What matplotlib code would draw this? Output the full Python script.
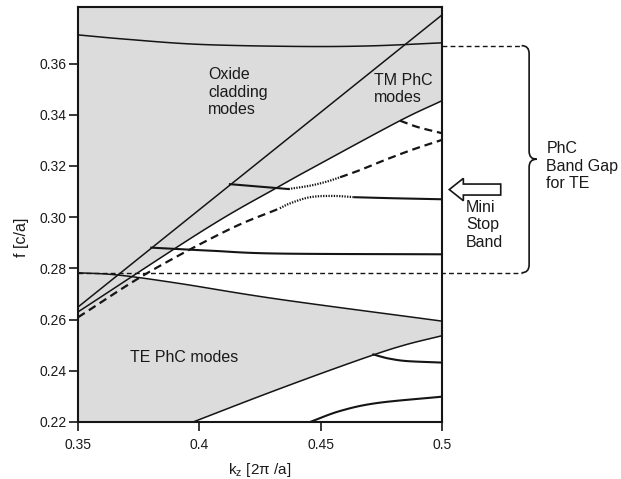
import numpy as np
import matplotlib
matplotlib.use("Agg")
import matplotlib.pyplot as plt
from matplotlib.path import Path
from matplotlib.patches import PathPatch, FancyArrow

plt.rcParams['font.family'] = ['Liberation Sans', 'DejaVu Sans']

# ---- band data (kz in 2*pi/a, f in c/a) ----
kz_light = [0.35, 0.5]
f_light = [0.2649, 0.3790]

kz_clad = [0.35, 0.37, 0.40, 0.44, 0.47, 0.5]
f_clad = [0.3712, 0.3695, 0.3675, 0.3667, 0.3669, 0.3681]

kz_tm = [0.35, 0.4027, 0.4319, 0.45, 0.4827, 0.5]
f_tm = [0.263, 0.2955, 0.3115, 0.321, 0.3377, 0.3455]

kz_tm_branch = [0.4827, 0.49, 0.5]
f_tm_branch = [0.3377, 0.3352, 0.3328]

kz_te_top = [0.35, 0.3665, 0.3912, 0.4324, 0.5]
f_te_top = [0.2783, 0.2774, 0.2742, 0.2680, 0.2594]

kz_te_bot = [0.3974, 0.425, 0.4497, 0.4717, 0.4855, 0.5]
f_te_bot = [0.22, 0.2301, 0.2388, 0.2462, 0.2503, 0.2537]

kz_te_branch = [0.4717, 0.475, 0.4786, 0.4855, 0.5]
f_te_branch = [0.2464, 0.2455, 0.2447, 0.2438, 0.2432]

kz_lowest = [0.4456, 0.458, 0.4732, 0.5]
f_lowest = [0.22, 0.2243, 0.2274, 0.2299]

kz_mode1 = [0.3802, 0.4049, 0.4324, 0.5]
f_mode1 = [0.2881, 0.2869, 0.2858, 0.2855]

# upper mode across the mini stop band
kz_up_solid = [0.4126, 0.4367]
f_up_solid = [0.3129, 0.3110]
kz_up_dot = [0.4367, 0.4456, 0.4525, 0.458]
f_up_dot = [0.3110, 0.3123, 0.3139, 0.3156]
kz_up_dash = [0.458, 0.4662, 0.4772, 0.4882, 0.5]
f_up_dash = [0.3156, 0.3184, 0.3226, 0.3265, 0.3302]

# lower mode across the mini stop band
kz_lo_dash = [0.35, 0.3788, 0.4118, 0.4332]
f_lo_dash = [0.2609, 0.2783, 0.2950, 0.3035]
kz_lo_dot = [0.4332, 0.4374, 0.4456, 0.4552, 0.4641]
f_lo_dot = [0.3035, 0.3054, 0.3078, 0.3083, 0.3078]
kz_lo_solid = [0.4641, 0.48, 0.5]
f_lo_solid = [0.3078, 0.3074, 0.3070]

gap_top = 0.367
gap_bottom = 0.2783
stop_band_f = 0.3108

xticks = [0.35, 0.4, 0.45, 0.5]
xticklabels = ['0.35', '0.4', '0.45', '0.5']
yticks = [0.22, 0.24, 0.26, 0.28, 0.30, 0.32, 0.34, 0.36]


def smooth(x, y, n=16):
    """Catmull-Rom curve through the given points."""
    p = np.column_stack([x, y]).astype(float)
    if len(p) < 3:
        return p[:, 0], p[:, 1]
    ext = np.vstack([2 * p[0] - p[1], p, 2 * p[-1] - p[-2]])
    out = []
    t = np.linspace(0, 1, n, endpoint=False)[:, None]
    for i in range(1, len(ext) - 2):
        p0, p1, p2, p3 = ext[i - 1], ext[i], ext[i + 1], ext[i + 2]
        seg = 0.5 * ((2 * p1) + (-p0 + p2) * t
                     + (2 * p0 - 5 * p1 + 4 * p2 - p3) * t ** 2
                     + (-p0 + 3 * p1 - 3 * p2 + p3) * t ** 3)
        out.append(seg)
    out.append(p[-1][None, :])
    out = np.vstack(out)
    return out[:, 0], out[:, 1]


W, H = 621, 479
fig = plt.figure(figsize=(W / 100, H / 100), dpi=100)
ax = fig.add_axes([78 / W, 1 - 422 / H, 364 / W, 415 / H])
ax.set_xlim(0.35, 0.5)
ax.set_ylim(0.22, 0.3821)

gray = '#dcdcdc'
ink = '#151515'

# shaded mode regions
xs = np.linspace(0.35, 0.5, 600)
tm = np.interp(xs, *smooth(kz_tm, f_tm))
te_top = np.interp(xs, *smooth(kz_te_top, f_te_top))
te_bot = np.where(xs < kz_te_bot[0], 0.22,
                  np.interp(xs, *smooth(kz_te_bot, f_te_bot)))
ax.fill_between(xs, tm, 0.3821, color=gray, lw=0, zorder=0)
ax.fill_between(xs, te_bot, te_top, color=gray, lw=0, zorder=0)


def curve(x, y, **kw):
    ax.plot(*smooth(x, y), **kw)


lw = 1.1
curve(kz_light, f_light, color=ink, lw=lw)
curve(kz_clad, f_clad, color=ink, lw=lw)
curve(kz_tm, f_tm, color=ink, lw=lw)
curve(kz_te_top, f_te_top, color=ink, lw=lw)
curve(kz_te_bot, f_te_bot, color=ink, lw=lw)
curve(kz_te_branch, f_te_branch, color=ink, lw=1.5)
curve(kz_lowest, f_lowest, color=ink, lw=1.5)
curve(kz_mode1, f_mode1, color=ink, lw=1.5)
curve(kz_up_solid, f_up_solid, color=ink, lw=1.5)
curve(kz_lo_solid, f_lo_solid, color=ink, lw=1.5)

dash = dict(color=ink, lw=1.6, dashes=(3.6, 2.2))
curve(kz_lo_dash, f_lo_dash, **dash)
curve(kz_up_dash, f_up_dash, **dash)
curve(kz_tm_branch, f_tm_branch, **dash)

dot = dict(color=ink, lw=1.6, dashes=(0.6, 0.6))
curve(kz_up_dot, f_up_dot, **dot)
curve(kz_lo_dot, f_lo_dot, **dot)

# band-gap limits extended to the brace
x_brace_end = 0.5328
gap = dict(color=ink, lw=1.0, dashes=(3.5, 2.3), clip_on=False)
ax.plot([0.35, x_brace_end], [gap_bottom, gap_bottom], **gap)
ax.plot([0.5, x_brace_end], [gap_top, gap_top], **gap)

# curly brace
xv, xt = 0.5359, 0.5390
r = 0.0031
ym = 0.5 * (gap_top + gap_bottom)
verts = [(x_brace_end, gap_top), (xv, gap_top), (xv, gap_top - r),
         (xv, ym + r), (xv, ym), (xt, ym),
         (xv, ym), (xv, ym - r),
         (xv, gap_bottom + r), (xv, gap_bottom), (x_brace_end, gap_bottom)]
codes = [Path.MOVETO, Path.CURVE3, Path.CURVE3,
         Path.LINETO, Path.CURVE3, Path.CURVE3,
         Path.CURVE3, Path.CURVE3,
         Path.LINETO, Path.CURVE3, Path.CURVE3]
ax.add_patch(PathPatch(Path(verts, codes), fill=False, ec=ink, lw=1.2,
                       clip_on=False))

# hollow arrow for the mini stop band
arrow = FancyArrow(0.5242, stop_band_f, -0.0212, 0, width=0.0043,
                   head_width=0.00875, head_length=0.0058,
                   length_includes_head=True, fc='white', ec=ink, lw=1.2,
                   clip_on=False)
ax.add_patch(arrow)

# labels
tcol = '#1a1a1a'
fs = 11.5


def ftext(px, py, s, **kw):
    fig.text(px / W, 1 - py / H, s, fontsize=fs, color=tcol, ha='left',
             va='center', linespacing=1.2, **kw)


ftext(208, 92, 'Oxide\ncladding\nmodes')
ftext(374, 89, 'TM PhC\nmodes')
ftext(130, 358, 'TE PhC modes')
ftext(466, 225, 'Mini\nStop\nBand')
ftext(546.5, 166, 'PhC\nBand Gap\nfor TE')

ax.set_xticks(xticks)
ax.set_xticklabels(xticklabels)
ax.set_yticks(yticks)
ax.set_yticklabels([f'{v:.2f}' for v in yticks])
ax.tick_params(axis='both', direction='out', length=6.5, width=1.2,
               labelsize=10, colors=ink, labelcolor=tcol)
ax.tick_params(axis='y', pad=1.5)
ax.tick_params(axis='x', pad=5)

ax.set_xlabel(r'k$_\mathregular{z}$ [2$\mathregular{\pi}$ /a]', fontsize=11,
              color=tcol, va='top')
ax.xaxis.set_label_coords(0.5, -0.095)
ax.set_ylabel('f [c/a]', fontsize=11.5, color=tcol, va='center')
ax.yaxis.set_label_coords(-0.155, 0.446)

for s in ax.spines.values():
    s.set_color(ink)
    s.set_linewidth(1.5)

fig.savefig('out.png', dpi=100)
